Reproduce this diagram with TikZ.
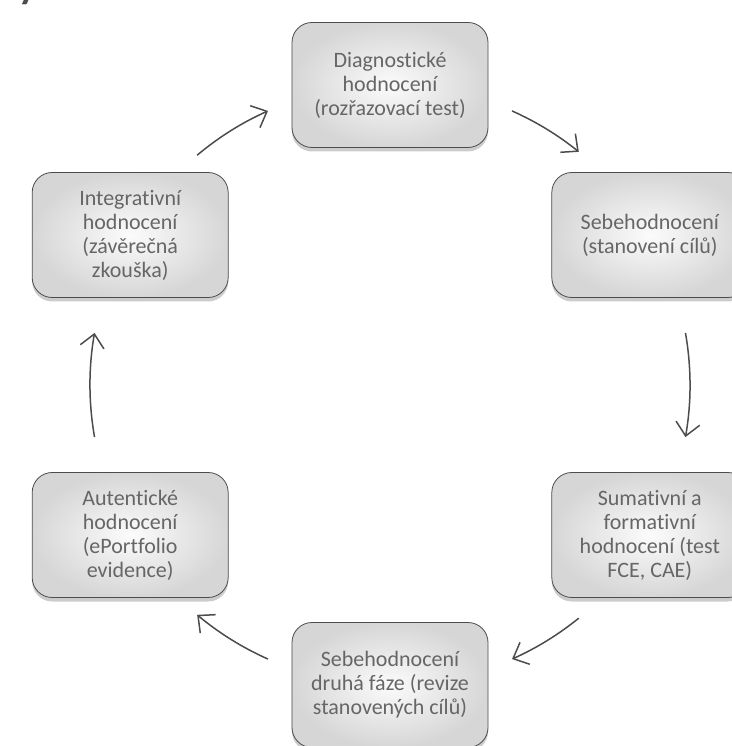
\documentclass[tikz,border=0pt]{standalone}
\usepackage{fontspec}
\setmainfont{Carlito}[RawFeature=-liga]
\usetikzlibrary{arrows.meta,shadows}

\begin{document}
\begin{tikzpicture}
	[x=1pt, y=1pt,
	every node/.style={font=\fontsize{22}{24}\selectfont, text=gray!80!black, align=center},
	stage/.style={draw=gray!60!black, line width=0.8pt, rounded corners=20pt,
		minimum width=196pt, minimum height=125pt, inner sep=4pt,
		shading=radial, inner color=gray!3, outer color=gray!32,
		drop shadow={shadow xshift=0pt, shadow yshift=-4pt, opacity=0.4}},
	turn/.style={draw=gray!60!black, line width=1.5pt, -{Straight Barb[length=13pt,width=24pt]}}]
	\useasboundingbox (-390,-361) rectangle (341,385);
	\node[font=\fontsize{40}{40}\selectfont\bfseries, text=gray!60!black, anchor=base west, inner sep=0pt] (title) at (-372,386) {y};
	\node[stage] (diag) at (90:300) {Diagnostické\\hodnocení\\(rozřazovací test)};
	\node[stage] (self) at (30:300) {Sebehodnocení\\(stanovení cílů)};
	\node[stage] (sum) at (-30:300) {Sumativní a\\formativní\\hodnocení (test\\FCE, CAE)};
	\node[stage] (revise) at (-90:300) {Sebehodnocení\\druhá fáze (revize\\stanovených cílů)};
	\node[stage] (auth) at (-150:300) {Autentické\\hodnocení\\(ePortfolio\\evidence)};
	\node[stage] (integ) at (150:300) {Integrativní\\hodnocení\\(závěrečná\\zkouška)};
	\foreach \from/\to in {130/114, 66/51, 10/-10, -51/-66, -114/-130, 190/170}
		\draw[turn] (\from:300) arc[start angle=\from, end angle=\to, radius=300];
\end{tikzpicture}
\end{document}
